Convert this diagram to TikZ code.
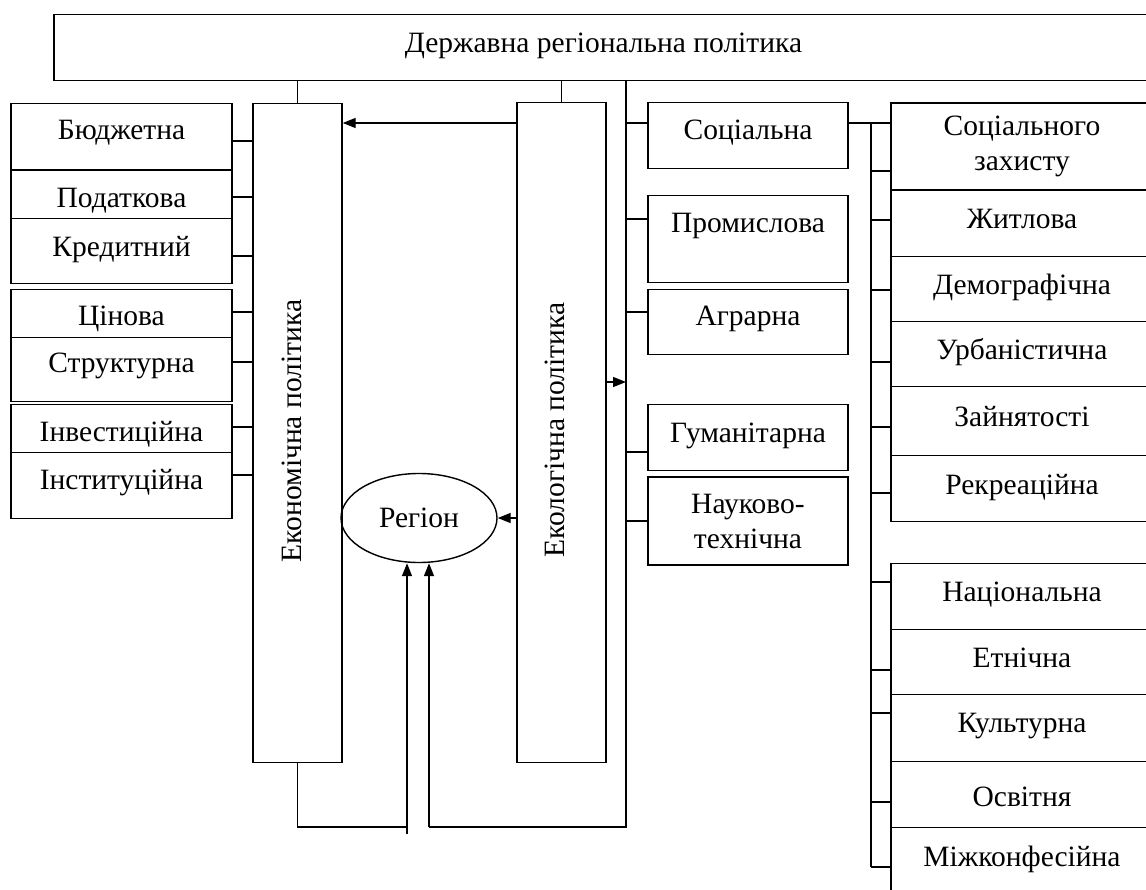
\documentclass[tikz,border=0pt]{standalone}
\usepackage{fontspec}
\setmainfont{Liberation Serif}
\usetikzlibrary{arrows.meta,shapes.geometric}
\tikzset{
  ln/.style={line width=1.4pt, draw=black},
  txt/.style={font=\fontsize{29.5}{35}\selectfont},
  bx/.style={ln, rectangle, anchor=north, inner sep=0pt, txt},
  bxtwo/.style={ln, rectangle, inner sep=0pt, align=center, txt},
  tip/.style={-{Triangle[length=13pt,width=10pt]}},
}
\newcommand{\mybox}[7]{%
  \pgfmathsetmacro{\bw}{#4-#2}\pgfmathsetmacro{\bth}{#6-#3}%
  \pgfmathsetmacro{\btd}{#5-#6}\pgfmathsetmacro{\bxc}{(#2+#4)/2}%
  \node[bx, minimum width=\bw pt, text height=\bth pt, text depth=\btd pt] (#1) at (\bxc,#3) {#7};}
\begin{document}
\begin{tikzpicture}[x=1pt,y=-1pt]
\fill[white] (0,0) rectangle (1146,890);
\useasboundingbox (0,0) rectangle (1146,890);
\clip (0,0) rectangle (1146,890);

% top
\mybox{top}{54}{14}{1153}{80}{52}{Державна регіональна політика}

% left column
\mybox{budg}{11}{103}{232}{169}{139}{Бюджетна}
\mybox{podat}{11}{170}{232}{218}{207}{Податкова}
\mybox{kred}{11}{218}{232}{283}{256}{Кредитний}
\mybox{cin}{11}{289}{232}{337}{325}{Цінова}
\mybox{strukt}{11}{337}{232}{401}{372}{Структурна}
\mybox{invest}{11}{404}{232}{452}{441}{Інвестиційна}
\mybox{instyt}{11}{452}{232}{518}{489}{Інституційна}

% two vertical boxes
\mybox{econ}{253}{103}{342}{762}{200}{}
\mybox{ecol}{517}{102}{606}{762}{200}{}
\node[txt, rotate=90] (econtxt) at (292,431) {Економічна політика};
\node[txt, rotate=90] (ecoltxt) at (555,430) {Екологічна політика};

% region
\node[ln, draw, ellipse, minimum width=156pt, minimum height=89pt, inner sep=0pt, txt] (reg) at (419,518) {Регіон};

% middle column
\mybox{soc}{648}{102}{848}{168}{139}{Соціальна}
\mybox{prom}{648}{195}{848}{282}{232}{Промислова}
\mybox{agr}{648}{289}{848}{354}{325}{Аграрна}
\mybox{hum}{648}{404}{848}{470}{442}{Гуманітарна}
\node[bxtwo, minimum width=200pt, minimum height=88pt] (nauk) at (748,521) {Науково-\\технічна};

% right column
\node[bxtwo, minimum width=262pt, minimum height=87pt] (szah) at (1022,146.5) {Соціального\\захисту};
\mybox{zhyt}{891}{190}{1153}{256}{228}{Житлова}
\mybox{demo}{891}{256}{1153}{321}{294}{Демографічна}
\mybox{urb}{891}{321}{1153}{386}{359}{Урбаністична}
\mybox{zayn}{891}{386}{1153}{455}{426}{Зайнятості}
\mybox{rekr}{891}{455}{1153}{521}{494}{Рекреаційна}
\mybox{nats}{891}{563}{1153}{629}{601}{Національна}
\mybox{etn}{891}{629}{1153}{694}{667}{Етнічна}
\mybox{kult}{891}{694}{1153}{761}{732}{Культурна}
\mybox{osv}{891}{761}{1153}{827}{806}{Освітня}
\mybox{mizh}{891}{827}{1153}{897}{866}{Міжконфесійна}

% connections from top
\draw[ln] (top.south -| econ.north) -- (econ.north);
\draw[ln] (top.south -| ecol.north) -- (ecol.north);
\coordinate (bus) at (626,827);
\coordinate (bR) at (429,827);
\coordinate (bLc) at (407,827);
\coordinate (bL) at (407,834);
\draw[ln] (top.south -| bus) -- (bus) -- (bR);
\draw[ln,tip] (bR) -- (bR |- reg.south);
\draw[ln] (econ.south) |- (bLc);
\draw[ln,tip] (bL) -- (bL |- reg.south);

% left stubs
\foreach \n/\yy in {budg/141, podat/197, kred/256, cin/312, strukt/362, invest/427, instyt/475}{
  \coordinate (s) at (0,\yy);
  \draw[ln] (\n.east |- s) -- (econ.west |- s);
}

% arrows from ecological box
\coordinate (a1) at (0,123);
\draw[ln,tip] (ecol.west |- a1) -- (econ.east |- a1);
\coordinate (a2) at (0,382);
\draw[ln,tip] (ecol.east |- a2) -- (bus |- a2);
\draw[ln,tip] (ecol.west |- reg.east) -- (reg.east);

% middle stubs
\foreach \n/\yy in {soc/123, prom/219, agr/312, hum/452, nauk/521}{
  \coordinate (s) at (0,\yy);
  \draw[ln] (bus |- s) -- (\n.west |- s);
}

% right bus
\coordinate (rb) at (871,123);
\coordinate (rbe) at (871,867);
\draw[ln] (soc.east |- rb) -- (szah.west |- rb);
\draw[ln] (rb) -- (rbe);
\foreach \n/\yy in {szah/171, zhyt/220, demo/290, urb/362, zayn/427, rekr/493, nats/582, etn/670, kult/713, osv/802, mizh/867}{
  \coordinate (s) at (871,\yy);
  \draw[ln] (s) -- (\n.west |- s);
}
\end{tikzpicture}
\end{document}
